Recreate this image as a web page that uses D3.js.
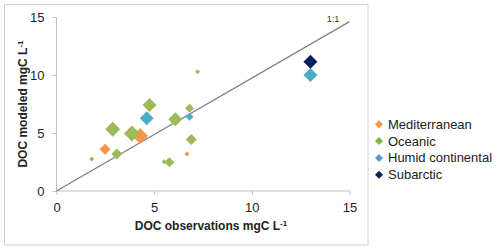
<!DOCTYPE html>
<html><head><meta charset="utf-8">
<script src="https://cdn.jsdelivr.net/npm/d3@7"></script>
<style>body{margin:0;background:#fff}svg{display:block}text{font-family:"Liberation Sans",Arial,sans-serif}</style>
</head><body>
<script>
const categories = ["Mediterranean","Oceanic","Humid continental","Subarctic"];
const colors = ["#F79646","#9BBB59","#4BACC6","#002060"];
const legendColors = ["#F79646","#7AB648","#5B9BD5","#002060"];
const xTicks = [0,5,10,15];
const yTicks = [0,5,10,15];
// observations, modeled, relative marker weight
const medObs = [2.49, 4.28, 6.68];
const medMod = [3.60, 4.74, 3.19];
const medW   = [11, 16, 5];
const ocObs = [2.88, 3.86, 4.76, 6.08, 3.09, 1.80, 5.78, 5.51, 6.90, 7.22, 6.81];
const ocMod = [5.32, 4.95, 7.41, 6.18, 3.19, 2.76, 2.47, 2.53, 4.45, 10.28, 7.13];
const ocW   = [15, 16, 14, 14, 11, 5, 10, 5, 11, 5, 9];
const hcObs = [4.62, 6.81, 13.0];
const hcMod = [6.27, 6.40, 10.0];
const hcW   = [14, 8, 14];
const saObs = [13.0];
const saMod = [11.15];
const saW   = [14];
const oneToOne = [[0,0],[15,14.6]];

const W=500,H=250;
const svg=d3.select("body").append("svg").attr("width",W).attr("height",H);
svg.append("rect").attr("x",4.5).attr("y",4.5).attr("width",363.5).attr("height",240.5)
  .attr("fill","none").attr("stroke","#d0d0d0");

const x=d3.scaleLinear().domain([0,15]).range([56.5,349.5]);
const y=d3.scaleLinear().domain([0,15]).range([191,17]);
const sz=d3.scaleLinear().domain([0,16]).range([0,16]);

const gx=svg.append("g").attr("transform","translate(0,191)")
  .call(d3.axisBottom(x).tickValues(xTicks).tickSize(4).tickPadding(8));
const gy=svg.append("g").attr("transform","translate(56.5,0)")
  .call(d3.axisLeft(y).tickValues(yTicks).tickSize(4).tickPadding(8));
[gx,gy].forEach(g=>{
  g.select(".domain").attr("stroke","#bfbfbf");
  g.selectAll(".tick line").attr("stroke","#bfbfbf");
  g.selectAll(".tick text").attr("font-size",13).attr("fill","#222");
});
gx.select(".domain").attr("d","M56.5,0H349.5");
gy.select(".domain").attr("d","M0,191V17");

svg.append("text").attr("x",211).attr("y",230).attr("text-anchor","middle")
  .attr("font-size",12).attr("font-weight","bold").attr("fill","#222")
  .html('DOC observations mgC L<tspan dy="-4" font-size="8">-1</tspan>');
svg.append("text").attr("transform","translate(27,104) rotate(-90)").attr("text-anchor","middle")
  .attr("font-size",12).attr("font-weight","bold").attr("fill","#222")
  .html('DOC modeled mgC L<tspan dy="-4" font-size="8">-1</tspan>');

svg.append("path").attr("d",d3.line().x(d=>x(d[0])).y(d=>y(d[1]))(oneToOne))
  .attr("stroke","#808080").attr("stroke-width",1.2).attr("fill","none");
svg.append("text").attr("x",333).attr("y",22).attr("text-anchor","middle")
  .attr("font-size",9).attr("fill","#333").text("1:1");

const series=[[medObs,medMod,medW],[ocObs,ocMod,ocW],[hcObs,hcMod,hcW],[saObs,saMod,saW]];
const diamond=(cx,cy,s)=>{const h=s/2;return `M${cx},${cy-h}L${cx+h},${cy}L${cx},${cy+h}L${cx-h},${cy}Z`;};
series.forEach(([xs,ys,ws],i)=>{
  svg.append("g").selectAll("path").data(xs.map((v,j)=>({x:v,y:ys[j],w:ws[j]}))).join("path")
    .attr("d",d=>diamond(x(d.x),y(d.y),sz(d.w))).attr("fill",colors[i]);
});

const lg=svg.append("g");
categories.forEach((c,i)=>{
  const ly=124.3+i*16.8;
  lg.append("path").attr("d",diamond(379,ly,8)).attr("fill",legendColors[i]);
  lg.append("text").attr("x",388).attr("y",ly+4.5).attr("font-size",13).attr("fill","#222").text(c);
});
</script>
</body></html>
